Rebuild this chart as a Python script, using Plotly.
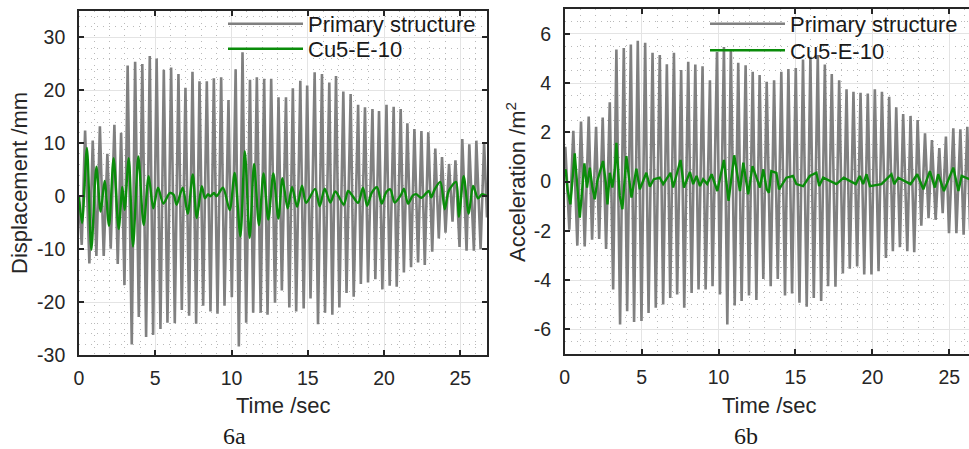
import plotly.graph_objects as go

# ---------------- data ----------------
# 6a  displacement (mm): successive peaks / troughs
disp_primary_t = [0.00, 0.18, 0.40, 0.68, 0.90, 1.14, 1.37, 1.62, 1.86, 2.08, 2.32, 2.54, 2.76, 2.98,
                  3.19, 3.46, 3.68, 3.92, 4.15, 4.40, 4.64, 4.86, 5.09, 5.34, 5.56, 5.80, 6.04, 6.28,
                  6.52, 6.74, 6.98, 7.22, 7.44, 7.68, 7.90, 8.14, 8.38, 8.62, 8.84, 9.08, 9.32, 9.54,
                  9.80, 10.02, 10.27, 10.48, 10.72, 10.96, 11.21, 11.42, 11.66, 11.91, 12.14, 12.36,
                  12.60, 12.85, 13.08, 13.30, 13.57, 13.79, 14.02, 14.24, 14.51, 14.73, 14.96, 15.18,
                  15.45, 15.67, 15.93, 16.13, 16.41, 16.61, 16.85, 17.07, 17.33, 17.54, 17.81, 18.01,
                  18.30, 18.48, 18.75, 18.95, 19.24, 19.43, 19.67, 19.89, 20.16, 20.37, 20.63, 20.83,
                  21.09, 21.30, 21.53, 21.77, 21.99, 22.23, 22.45, 22.67, 22.90, 23.16, 23.36, 23.59,
                  23.80, 24.03, 24.26, 24.49, 24.68, 24.95, 25.13, 25.41, 25.59, 25.89, 26.05, 26.33,
                  26.56, 26.75]
disp_primary_v = [-1.0, -9.2, 12.4, -12.7, 10.5, -11.3, 13.2, -11.3, 8.0, -9.9, 13.5, -12.8, 12.0, -16.8,
                  24.7, -28.0, 25.4, -22.8, 25.0, -26.6, 26.5, -26.2, 26.0, -25.1, 23.9, -23.9, 24.3, -24.0,
                  23.1, -21.5, 20.5, -22.6, 23.5, -24.1, 21.7, -20.7, 21.7, -21.8, 22.3, -22.2, 22.5, -20.7,
                  18.2, -19.1, 24.0, -28.4, 27.2, -23.9, 22.0, -22.0, 22.5, -22.0, 22.2, -22.4,
                  22.2, -20.1, 18.7, -17.8, 18.7, -21.0, 20.4, -21.8, 21.8, -21.2, 20.9, -19.3,
                  23.4, -24.2, 23.1, -22.0, 21.5, -22.4, 22.7, -21.0, 19.8, -18.3, 19.3, -19.0,
                  17.3, -16.6, 16.8, -16.3, 16.5, -15.7, 16.1, -17.6, 17.3, -16.9, 16.9, -17.1,
                  16.5, -14.4, 13.8, -13.4, 12.7, -12.5, 12.3, -13.0, 12.1, -10.5, 9.0, -8.0,
                  7.4, -6.9, 6.1, -4.8, 6.8, -9.6, 10.8, -10.3, 9.8, -10.3, 10.5, -10.0,
                  10.2, -4.0]

disp_damped_t = [0.00, 0.20, 0.52, 0.81, 1.14, 1.42, 1.68, 1.97, 2.27, 2.60, 2.84, 2.99, 3.26, 3.54,
                 3.89, 4.24, 4.57, 4.87, 5.18, 5.53, 5.95, 6.20, 6.40, 6.80, 7.13, 7.46, 7.72, 8.05,
                 8.26, 8.46, 8.60, 8.85, 9.02, 9.44, 9.88, 10.21, 10.58, 10.87, 11.19, 11.48, 11.80,
                 12.10, 12.41, 12.74, 13.07, 13.34, 13.68, 13.97, 14.30, 14.62, 14.89, 15.48, 15.78,
                 16.11, 16.48, 16.81, 17.36, 17.64, 17.90, 18.30, 18.62, 18.89, 19.20, 19.54, 19.85,
                 20.15, 20.41, 20.70, 21.10, 21.31, 21.57, 21.88, 22.10, 22.45, 22.93, 23.10, 23.32,
                 23.69, 23.98, 24.24, 24.72, 24.90, 25.22, 25.55, 25.84, 26.16, 26.43, 26.75]
disp_damped_v = [0.0, -5.1, 9.1, -10.1, 5.6, -2.9, 2.9, -5.6, 7.2, -6.2, 1.75, -2.6, 7.2, -9.5,
                 7.5, -5.45, 3.8, -2.3, 1.6, -1.4, 0.6, 0.3, -1.6, 1.6, -3.3, 4.1, -4.1, 1.9,
                 -0.4, 0.4, 0.0, 0.6, 0.0, 1.6, -2.6, 4.4, -7.6, 8.5, -7.9, 6.1, -5.45,
                 4.3, -4.4, 4.3, -4.2, 3.4, -2.3, 1.75, -2.0, 2.0, -1.25, 1.4, -1.9,
                 1.4, -1.2, 0.9, -1.6, 1.0, 0.2, -1.25, 1.6, -1.8, 0.7, 1.7, -1.4,
                 0.8, 1.3, -1.2, 0.2, 1.4, -1.4, 0.1, 0.4, -0.3, 1.0, -0.2, 1.3,
                 2.7, -2.45, 1.0, 2.7, -3.9, 3.8, -3.3, 1.95, -0.4, 0.4, 0.0]

# 6b  acceleration: successive peaks / troughs
acc_primary_t = [0.00, 0.04, 0.30, 0.56, 0.82, 1.06, 1.30, 1.56, 1.78, 2.04, 2.24, 2.47, 2.69, 2.93, 3.15,
                 3.36, 3.60, 3.84, 4.06, 4.30, 4.51, 4.75, 4.99, 5.23, 5.45, 5.71, 5.92, 6.18, 6.40,
                 6.64, 6.86, 7.10, 7.31, 7.57, 7.77, 8.03, 8.25, 8.49, 8.70, 8.96, 9.16, 9.44, 9.61,
                 9.90, 10.09, 10.35, 10.57, 10.80, 11.05, 11.28, 11.50, 11.76, 11.98, 12.22, 12.46,
                 12.67, 12.91, 13.13, 13.39, 13.61, 13.85, 14.08, 14.32, 14.54, 14.78, 15.02, 15.26,
                 15.49, 15.73, 15.97, 16.19, 16.45, 16.67, 16.91, 17.12, 17.36, 17.60, 17.84, 18.08,
                 18.32, 18.53, 18.77, 19.01, 19.23, 19.47, 19.70, 19.94, 20.16, 20.40, 20.62, 20.88,
                 21.09, 21.33, 21.55, 21.79, 22.00, 22.27, 22.48, 22.72, 22.94, 23.18, 23.42, 23.65,
                 23.87, 24.11, 24.35, 24.57, 24.78, 24.98, 25.26, 25.46, 25.72, 25.93, 26.17, 26.35]
acc_primary_v = [0.6, 1.42, -1.95, 2.07, -2.6, 2.44, -2.63, 2.64, -2.36, 2.23, -2.33, 2.6, -2.73, 3.22, -4.38,
                 5.37, -5.8, 5.43, -5.26, 5.57, -5.7, 5.72, -5.66, 5.64, -5.33, 5.23, -5.12, 5.14, -4.99,
                 4.77, -4.72, 5.23, -4.58, 4.53, -5.12, 4.87, -4.52, 4.76, -4.38, 4.69, -4.38, 4.12, -4.25,
                 5.27, -4.58, 5.47, -5.8, 5.34, -5.03, 4.83, -4.85, 4.73, -4.62, 4.46, -4.81,
                 4.33, -3.95, 4.06, -4.25, 4.12, -3.95, 4.46, -4.62, 4.57, -4.54, 4.62, -4.92,
                 4.96, -5.08, 5.07, -4.72, 5.14, -4.85, 4.76, -4.25, 4.37, -4.27, 4.12, -3.73,
                 3.75, -3.54, 3.65, -3.44, 3.61, -3.77, 3.58, -3.77, 3.75, -3.64, 3.65, -3.10,
                 3.45, -2.83, 3.02, -2.66, 2.75, -2.83, 2.67, -2.87, 2.50, -1.79, 1.96, -1.48,
                 1.69, -1.55, 1.36, -1.28, 1.83, -2.09, 2.17, -2.09, 2.13, -2.15, 2.23, -1.95]

acc_damped_t = [0.00, 0.06, 0.20, 0.37, 0.65, 0.85, 0.98, 1.28, 1.45, 1.63, 1.80, 1.95, 2.12, 2.49, 2.67,
                2.78, 2.93, 3.10, 3.26, 3.36, 3.47, 3.58, 3.75, 4.01, 4.34, 4.66, 4.88, 5.31, 5.53,
                5.79, 6.18, 6.40, 6.88, 7.05, 7.53, 7.75, 8.14, 8.35, 8.57, 8.79, 9.00, 9.26, 9.55,
                9.92, 10.35, 10.65, 11.02, 11.39, 11.61, 11.93, 12.21, 12.69, 12.91, 13.13, 13.28,
                13.43, 13.76, 13.93, 14.41, 14.84, 15.06, 15.50, 15.93, 16.36, 16.54, 16.80, 17.66,
                18.14, 18.92, 19.18, 19.40, 19.62, 19.84, 20.59, 21.24, 21.42, 21.68, 22.48, 22.92,
                23.31, 23.74, 24.06, 24.28, 24.65, 25.26, 25.59, 25.80, 26.30]
acc_damped_v = [0.3, 0.5, -0.38, -0.92, 1.15, -0.45, -1.46, 0.74, -0.24, 0.57, -0.24, -0.72, 0.03, 0.84, -0.04,
                -0.92, 0.36, -0.24, 0.5, 1.58, 0.36, -0.58, -1.12, 1.04, -0.65, 0.53, -0.31, 0.36, -0.2,
                0.1, 0.16, -0.1, 0.36, -0.24, 0.88, -0.24, 0.39, -0.1, 0.23, -0.18, 0.1, -0.1, 0.3,
                -0.38, 0.88, -0.78, 1.07, -0.38, 0.77, -0.51, 0.63, -0.24, 0.5, -0.31, -0.45,
                0.43, 0.36, -0.31, 0.16, 0.23, -0.1, -0.18, 0.23, 0.36, -0.18, 0.16, -0.1,
                0.16, -0.1, 0.23, -0.1, 0.3, -0.18, -0.1, 0.3, -0.1, 0.16, -0.1, 0.3,
                -0.31, 0.43, -0.24, 0.3, -0.38, 0.57, -0.38, 0.23, 0.1]

series_names = ["Primary structure", "Cu5-E-10"]
x_ticks = [0, 5, 10, 15, 20, 25]
disp_ticks = [-30, -20, -10, 0, 10, 20, 30]
acc_ticks = [-6, -4, -2, 0, 2, 4, 6]

# ---------------- figure ----------------
W, H = 969, 449
GRAY = "rgb(128,128,128)"
GREEN = "rgb(10,140,10)"
FONT = "Liberation Sans, Arial, sans-serif"

fig = go.Figure()
fig.add_trace(go.Scatter(x=disp_primary_t, y=disp_primary_v, mode="lines", name=series_names[0],
                         line=dict(color=GRAY, width=2.6), xaxis="x", yaxis="y", legend="legend"))
fig.add_trace(go.Scatter(x=disp_damped_t, y=disp_damped_v, mode="lines", name=series_names[1],
                         line=dict(color=GREEN, width=2.4, shape="spline", smoothing=0.8),
                         xaxis="x", yaxis="y", legend="legend2"))
fig.add_trace(go.Scatter(x=acc_primary_t, y=acc_primary_v, mode="lines", name=series_names[0],
                         line=dict(color=GRAY, width=2.6), xaxis="x2", yaxis="y2", legend="legend3"))
fig.add_trace(go.Scatter(x=acc_damped_t, y=acc_damped_v, mode="lines", name=series_names[1],
                         line=dict(color=GREEN, width=2.4), xaxis="x2", yaxis="y2", legend="legend4"))

def px_x(p):
    return p / W

def px_y(p):
    return 1 - p / H

common_axis = dict(
    showline=True, linecolor="#262626", linewidth=1.6,
    ticks="inside", ticklen=5, tickwidth=1.6, tickcolor="#262626",
    showgrid=True, gridcolor="rgb(228,228,228)", gridwidth=1,
    zeroline=False, automargin=False,
    tickfont=dict(family=FONT, size=19.5, color="#262626"),
)

minor_common = dict(showgrid=True, gridcolor="rgb(185,185,185)", griddash="1px,5px", gridwidth=1, ticks="")

def legend_at(x_px, top_px):
    return dict(x=px_x(x_px), y=px_y(top_px), xanchor="left", yanchor="top",
                bgcolor="rgba(0,0,0,0)", borderwidth=0, itemwidth=75, tracegroupgap=0,
                font=dict(family=FONT, size=22, color="#1a1a1a"))

fig.update_layout(
    width=W, height=H,
    margin=dict(l=0, r=0, t=0, b=0),
    paper_bgcolor="white", plot_bgcolor="white",
    showlegend=True,
    xaxis=dict(common_axis, domain=[px_x(79), px_x(487)], range=[0, 26.75], tickvals=x_ticks,
               ticktext=[str(v) for v in x_ticks],
               mirror="ticks", anchor="y", ticklabelstandoff=5,
               minor=dict(minor_common, dtick=1, tick0=0)),
    yaxis=dict(common_axis, domain=[px_y(355), px_y(11)], range=[-30, 35], tickvals=disp_ticks,
               ticktext=[str(v) for v in disp_ticks],
               mirror="ticks", anchor="x", ticklabelstandoff=8,
               minor=dict(minor_common, dtick=2, tick0=0)),
    xaxis2=dict(common_axis, domain=[px_x(564.7), 1.0], range=[0, 26.28], tickvals=x_ticks,
                ticktext=[str(v) for v in x_ticks],
                mirror="ticks", anchor="y2", ticklabelstandoff=5,
                minor=dict(minor_common, dtick=1, tick0=0)),
    yaxis2=dict(common_axis, domain=[px_y(354), px_y(9.3)], range=[-7, 7], tickvals=acc_ticks,
                ticktext=[str(v) for v in acc_ticks],
                mirror=False, anchor="x2", ticklabelstandoff=8,
                minor=dict(minor_common, dtick=0.5, tick0=0)),
    legend=legend_at(223, 3),
    legend2=legend_at(223, 28),
    legend3=legend_at(705, 3),
    legend4=legend_at(705, 29.5),
)

ann_font = dict(family=FONT, size=22, color="#262626")
def add_text(text, x, y, font, angle=0):
    fig.add_annotation(text=text, textangle=angle, x=px_x(x), y=px_y(y), xref="paper", yref="paper",
                       xanchor="center", yanchor="middle", showarrow=False, font=font)

add_text("Displacement /mm", 19, 183, ann_font, -90)
add_text("Acceleration /m<sup>2</sup>", 516, 182, ann_font, -90)
add_text("Time /sec", 283, 405, ann_font)
add_text("Time /sec", 769, 405, ann_font)
cap_font = dict(family="Liberation Serif, Times New Roman, serif", size=24, color="#1a1a1a")
add_text("6a", 234, 436, cap_font)
add_text("6b", 746, 436, cap_font)

fig.write_html("out.html", config={"displayModeBar": False},
               post_script="document.body.style.margin='0px';document.body.style.overflow='hidden';")
